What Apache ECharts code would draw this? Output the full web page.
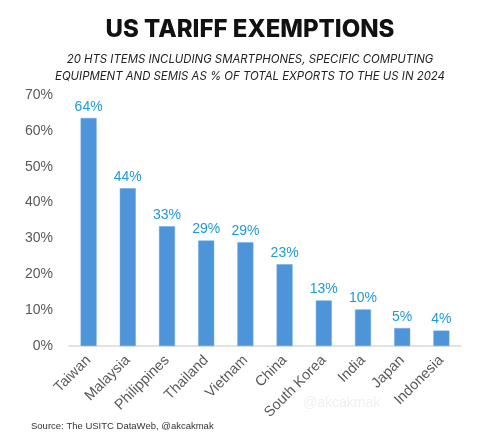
<!DOCTYPE html>
<html lang="en">
<head>
    <meta charset="UTF-8">
    <script src="https://cdn.jsdelivr.net/npm/echarts@6/dist/echarts.min.js"></script>
    <title>US Tariff Exemptions</title>
    <style>
        html, body { margin: 0; padding: 0; background: #fff; }
    </style>
</head>
<body>
<div id="chart" style="width:500px;height:446px;"></div>
<script type="text/javascript">
    // data
    var countries = ['Taiwan', 'Malaysia', 'Philippines', 'Thailand', 'Vietnam', 'China', 'South Korea', 'India', 'Japan', 'Indonesia'];
    var shares = [63.6, 44.0, 33.4, 29.4, 28.9, 22.8, 12.7, 10.2, 5.0, 4.3];
    var yTicks = [0, 10, 20, 30, 40, 50, 60, 70];

    var chart = echarts.init(document.getElementById('chart'));
    var option = {
        animation: false,
        title: [
            {
                text: 'US TARIFF EXEMPTIONS',
                left: 'center',
                top: 13,
                textStyle: { fontFamily: 'Inter', fontWeight: 800, fontSize: 24, color: '#111' }
            },
            {
                text: '20 HTS ITEMS INCLUDING SMARTPHONES, SPECIFIC COMPUTING\nEQUIPMENT AND SEMIS AS % OF TOTAL EXPORTS TO THE US IN 2024',
                left: 'center',
                top: 46,
                textStyle: { fontFamily: 'Inter', fontStyle: 'italic', fontWeight: 400, fontSize: 11.4, lineHeight: 17, color: '#222', align: 'center' }
            }
        ],
        graphic: [
            {
                type: 'text', left: 31, top: 421,
                style: { text: 'Source: The USITC DataWeb, @akcakmak', fontFamily: 'Liberation Sans', fontSize: 9.5, fill: '#333' }
            },
            {
                type: 'text', left: 303, top: 396,
                style: { text: '@akcakmak', fontFamily: 'Liberation Sans', fontSize: 14, fill: '#f0f0f0' }
            }
        ],
        grid: { left: 69, right: 39, top: 95, bottom: 100 },
        xAxis: {
            type: 'category',
            data: countries,
            axisLine: { lineStyle: { color: '#d9d9d9', width: 1.5 } },
            axisTick: { show: false },
            axisLabel: { rotate: 45, interval: 0, color: '#595959', fontFamily: 'Liberation Sans', fontSize: 14.5, margin: 12 }
        },
        yAxis: {
            type: 'value',
            min: yTicks[0],
            max: yTicks[yTicks.length - 1],
            interval: 10,
            splitLine: { show: false },
            axisLine: { show: false },
            axisTick: { show: false },
            axisLabel: { formatter: '{value}%', color: '#595959', fontFamily: 'Liberation Sans', fontSize: 14, margin: 16 }
        },
        series: [{
            type: 'bar',
            data: shares,
            barWidth: 16,
            itemStyle: { color: '#4e94d8', borderColor: '#6aa6e0', borderWidth: 0.5 },
            label: {
                show: true,
                position: 'top',
                distance: 4,
                color: '#1f9ad8',
                fontFamily: 'Liberation Sans',
                fontSize: 14,
                formatter: function (p) { return Math.round(p.value) + '%'; }
            }
        }]
    };
    chart.setOption(option);
</script>
</body>
</html>
